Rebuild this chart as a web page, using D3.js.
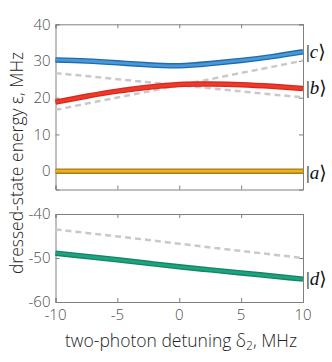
<!DOCTYPE html>
<html>
<head>
<meta charset="utf-8">
<script src="https://cdn.jsdelivr.net/npm/d3@7"></script>
<style>
  body { margin: 0; background: #fff; }
  svg text { font-family: "Open Sans", "Noto Sans", sans-serif; }
</style>
</head>
<body>
<div id="chart"></div>
<script>
// detuning values (MHz)
const detuning = [-10, -7.5, -5, -2.5, 0, 2.5, 5, 7.5, 10];

// dressed states
const stateC = [30.3, 30.0, 29.5, 28.95, 28.7, 29.3, 30.15, 31.2, 32.5];
const stateB = [18.8, 20.4, 21.8, 22.85, 23.6, 23.72, 23.55, 23.1, 22.5];
const stateA = [0, 0, 0, 0, 0, 0, 0, 0, 0];
const stateD = [-48.9, -49.65, -50.4, -51.2, -52.0, -52.7, -53.4, -54.1, -54.8];

// bare states (dashed)
const bareUp = [16.7, 18.4, 20.05, 21.7, 23.4, 25.05, 26.75, 28.4, 30.1];
const bareDown = [26.7, 25.9, 25.05, 24.2, 23.4, 22.6, 21.75, 20.9, 20.1];
const bareD = [-43.5, -44.3, -45.1, -45.9, -46.75, -47.6, -48.4, -49.2, -50.0];

const xTicks = [-10, -5, 0, 5, 10];
const topTicks = [0, 10, 20, 30, 40];
const bottomTicks = [-60, -50, -40];

const width = 332, height = 362;
const left = 55.5, right = 303;

const svg = d3.select("#chart").append("svg")
    .attr("width", width)
    .attr("height", height);

const x = d3.scaleLinear().domain([-10, 10]).range([left, right]);
const yTop = d3.scaleLinear().domain([-5, 40]).range([189.5, 24.3]);
const yBot = d3.scaleLinear().domain([-60, -40]).range([302, 214]);

const axisColor = "#808080";
const labelColor = "#4d4d4d";

function panel(y, yTickVals, showXLabels) {
    const g = svg.append("g");
    const [y0, y1] = y.range();

    // ticks (inside, MATLAB style)
    const bottom = g.append("g").attr("transform", `translate(0,${y0})`)
        .call(d3.axisTop(x).tickValues(xTicks).tickSize(4).tickFormat(""));
    const top = g.append("g").attr("transform", `translate(0,${y1})`)
        .call(d3.axisBottom(x).tickValues(xTicks).tickSize(4).tickFormat(""));
    const leftAx = g.append("g").attr("transform", `translate(${left},0)`)
        .call(d3.axisRight(y).tickValues(yTickVals).tickSize(4).tickFormat(""));
    const rightAx = g.append("g").attr("transform", `translate(${right},0)`)
        .call(d3.axisLeft(y).tickValues(yTickVals).tickSize(4).tickFormat(""));
    [bottom, top, leftAx, rightAx].forEach(a => {
        a.selectAll("path.domain").attr("stroke", axisColor);
        a.selectAll("line").attr("stroke", axisColor);
    });

    // y tick labels
    g.selectAll(".ylab").data(yTickVals).join("text")
        .attr("x", left - 5)
        .attr("y", d => y(d))
        .attr("dy", "0.35em")
        .attr("text-anchor", "end")
        .attr("font-size", 15)
        .attr("font-weight", 300)
        .attr("fill", labelColor)
        .text(d => d);

    if (showXLabels) {
        g.selectAll(".xlab").data(xTicks).join("text")
            .attr("x", d => x(d))
            .attr("y", y0 + 13)
            .attr("dy", "0.35em")
            .attr("text-anchor", "middle")
            .attr("font-size", 15)
            .attr("font-weight", 300)
            .attr("fill", labelColor)
            .text(d => d);
    }
    return g;
}

const gTop = panel(yTop, topTicks, false);
const gBot = panel(yBot, bottomTicks, true);

function dashed(g, y, vals) {
    g.append("path")
        .datum(vals)
        .attr("d", d3.line().x((d, i) => x(detuning[i])).y(d => y(d)))
        .attr("fill", "none")
        .attr("stroke", "#c9c9c9")
        .attr("stroke-width", 2.5)
        .attr("stroke-dasharray", "6 4");
}

function state(g, y, vals, outer, inner) {
    const line = d3.line()
        .x((d, i) => x(detuning[i]))
        .y(d => y(d))
        .curve(d3.curveNatural);
    g.append("path").datum(vals).attr("d", line)
        .attr("fill", "none").attr("stroke", outer).attr("stroke-width", 5.5);
    g.append("path").datum(vals).attr("d", line)
        .attr("fill", "none").attr("stroke", inner).attr("stroke-width", 2.8);
}

dashed(gTop, yTop, bareUp);
dashed(gTop, yTop, bareDown);
state(gTop, yTop, stateC, "#1f6cae", "#4a98d6");
state(gTop, yTop, stateB, "#d9291e", "#ee3a2a");
state(gTop, yTop, stateA, "#a87c12", "#edb120");

dashed(gBot, yBot, bareD);
state(gBot, yBot, stateD, "#128565", "#1ea381");

// state labels
function ketLabel(name, yPos) {
    const t = svg.append("text")
        .attr("x", 306)
        .attr("y", yPos)
        .attr("dy", "0.35em")
        .attr("font-size", 19)
        .attr("fill", "#111")
        .style("font-family", "'Liberation Serif', 'DejaVu Serif', serif");
    t.append("tspan").text("|");
    t.append("tspan").attr("font-style", "italic").text(name);
    t.append("tspan").text("\u27E9");
}
ketLabel("c", yTop(stateC[stateC.length - 1]));
ketLabel("b", yTop(stateB[stateB.length - 1]) - 1);
ketLabel("a", yTop(0) + 1);
ketLabel("d", yBot(stateD[stateD.length - 1]) - 1);

// axis titles
svg.append("text")
    .attr("transform", `translate(17,163) rotate(-90)`)
    .attr("text-anchor", "middle")
    .attr("dy", "0.35em")
    .attr("font-size", 17.5)
    .attr("font-weight", 300)
    .attr("fill", "#222")
    .text("dressed-state energy \u03B5, MHz");

const xt = svg.append("text")
    .attr("x", 181)
    .attr("y", 347)
    .attr("text-anchor", "middle")
    .attr("font-size", 17.5)
    .attr("font-weight", 300)
    .attr("fill", "#222");
xt.append("tspan").text("two-photon detuning \u03B4");
xt.append("tspan").attr("font-size", 12).attr("dy", 3).text("2");
xt.append("tspan").attr("dy", -3).text(", MHz");
</script>
</body>
</html>
